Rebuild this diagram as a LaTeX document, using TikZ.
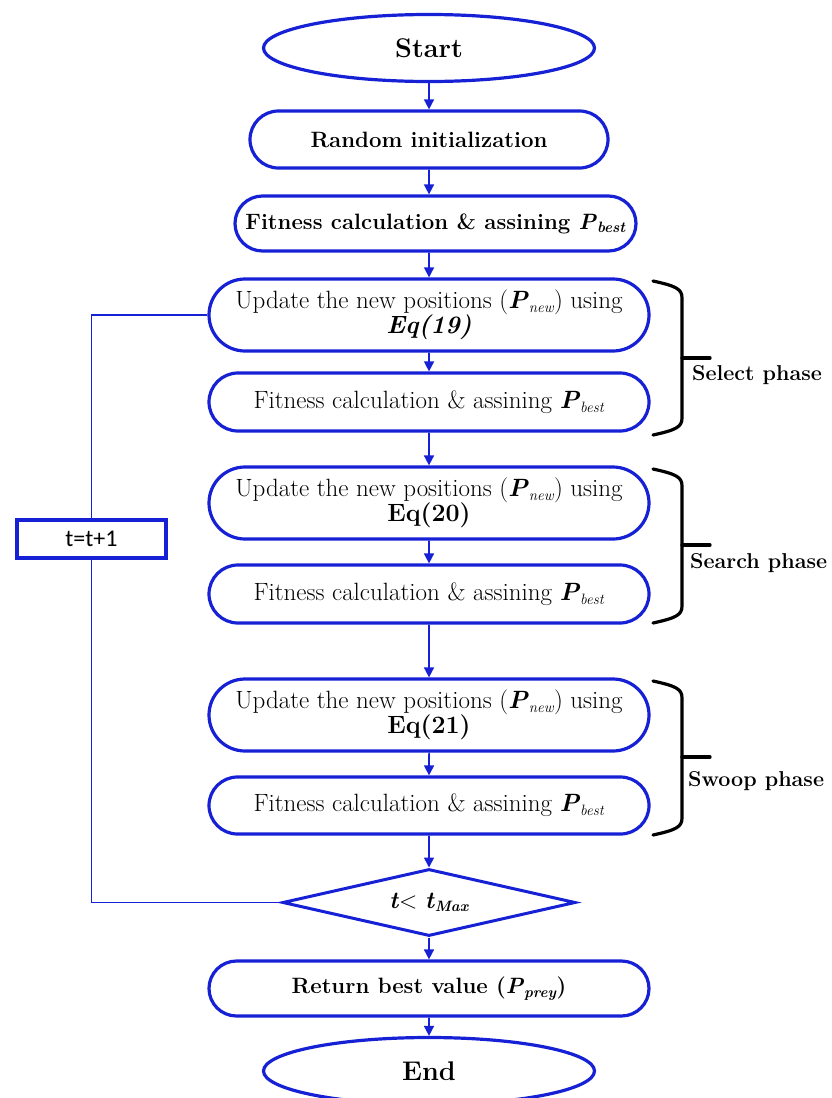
\documentclass[tikz,border=0pt]{standalone}
\usepackage{fontspec}
\newfontfamily\carlito{Carlito}
\usetikzlibrary{shapes.geometric,shapes.misc,arrows.meta}
\definecolor{flowblue}{RGB}{22,32,212}
% subscript set low and small, as in P_best
\newcommand{\lowsub}[1]{\raisebox{-0.35ex}{\fontsize{15}{17}\selectfont\textit{#1}}}
\newcommand{\Pbest}{\textbf{\textit{P}}\lowsub{best}}
\newcommand{\Pnew}{\textbf{\textit{P}}\lowsub{new}}
\begin{document}
\begin{tikzpicture}[x=1pt,y=-1pt,
  box/.style={rounded rectangle, draw=flowblue, line width=3.2pt, fill=white,
    minimum height=57pt, inner sep=2pt, align=center,
    font=\fontsize{25}{28}\selectfont},
  boldbox/.style={box, font=\bfseries\fontsize{22.2}{26}\selectfont},
  wide/.style={box, minimum width=444pt},
  term/.style={ellipse, draw=flowblue, line width=3.2pt, fill=white,
    minimum width=331pt, minimum height=67pt, inner sep=0pt,
    font=\bfseries\fontsize{27}{30}\selectfont},
  flow/.style={draw=flowblue, line width=1.6pt, -{Triangle[length=10pt,width=10pt]}},
  plain/.style={draw=flowblue, line width=1.6pt},
  brace/.style={draw=black, line width=3.2pt, line cap=round},
  phase/.style={font=\bfseries\fontsize{21.5}{25}\selectfont, anchor=west, inner sep=0pt}]
\useasboundingbox (0,0) rectangle (831,1098);

% main column of steps
\node[term] (start) at (429,48) {Start};
\node[boldbox, minimum width=362pt] (init) at (429,139.5) {Random initialization};
\node[boldbox, minimum width=405pt, minimum height=55pt] (fit0) at (435.5,223.5) {Fitness calculation \& assining \Pbest};

\node[wide, minimum height=72pt] (up1) at (429,315) {Update the new positions (\Pnew) using\\[-3pt] \textbf{\textit{Eq(19)}}};
\node[wide, minimum height=58pt] (fit1) at (429,402) {Fitness calculation \& assining \Pbest};

\node[wide, minimum height=72pt] (up2) at (429,503) {Update the new positions (\Pnew) using\\[-3pt] \textbf{Eq(20)}};
\node[wide, minimum height=58pt] (fit2) at (429,594) {Fitness calculation \& assining \Pbest};

\node[wide, minimum height=72pt] (up3) at (429,715) {Update the new positions (\Pnew) using\\[-3pt] \textbf{Eq(21)}};
\node[wide, minimum height=57pt] (fit3) at (429,805.5) {Fitness calculation \& assining \Pbest};

\node[diamond, draw=flowblue, line width=3pt, fill=white, aspect=4.4,
  minimum width=293pt, minimum height=67pt, inner sep=0pt,
  font=\fontsize{24}{28}\selectfont] (test) at (429,902.5)
  {\textbf{\textit{t}}< \textbf{\textit{t}}\lowsub{\textbf{Max}}};

\node[wide, minimum height=55pt, font=\bfseries\fontsize{22.2}{26}\selectfont] (ret) at (429,988.5)
  {Return best value (\textbf{\textit{P}}\lowsub{prey})};
\node[term] (end) at (429,1071) {End};

% counter box on the loop-back line
\node[draw=flowblue, line width=3.2pt, fill=white, minimum width=149pt, minimum height=38pt,
  inner sep=0pt, font=\carlito\fontsize{24}{28}\selectfont] (inc) at (91.5,539) {t=t+1};

% connectors down the column
\draw[flow] (start) -- (init);
\draw[flow] (init) -- (init |- fit0.north);
\draw[flow] (init |- fit0.south) -- (up1);
\draw[flow] (up1) -- (fit1);
\draw[flow] (fit1) -- (up2);
\draw[flow] (up2) -- (fit2);
\draw[flow] (fit2) -- (up3);
\draw[flow] (up3) -- (fit3);
\draw[flow] (fit3) -- (test);
\draw[flow] (test) -- (ret);
\draw[flow] (ret) -- (end);

% loop back while t < tMax
\draw[plain] (test.west) -| (inc.south);
\draw[plain] (inc.north) |- (up1.west);

% phase braces
\foreach \top/\bot in {281/435, 469/623, 681/835}{
  \draw[brace] (653,\top) .. controls (676,\top+5) and (682,\top+8) .. (682,\top+17)
    -- (682,\bot-17) .. controls (682,\bot-8) and (676,\bot-5) .. (653,\bot);
}
\coordinate (selm) at (682,358);
\coordinate (seam) at (682,545);
\coordinate (swom) at (682,757);
\draw[brace] (selm) -- ++(28,0);
\draw[brace] (seam) -- ++(28,0);
\draw[brace] (swom) -- ++(28,0);
\node[phase] (selt) at (692,375) {Select phase};
\node[phase] (seat) at (690,563) {Search phase};
\node[phase] (swot) at (688,781) {Swoop phase};
\end{tikzpicture}
\end{document}
